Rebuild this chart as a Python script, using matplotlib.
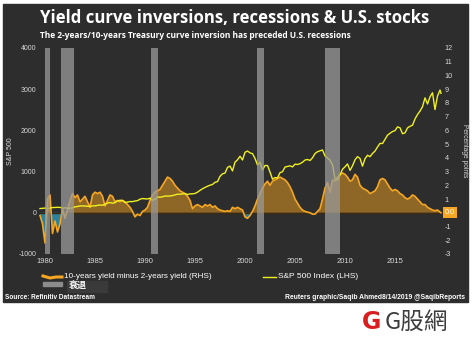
import numpy as np
import matplotlib
matplotlib.use("Agg")
import matplotlib.pyplot as plt
from matplotlib.patches import Rectangle
from matplotlib.lines import Line2D

plt.rcParams['font.family'] = ['Liberation Sans', 'DejaVu Sans']

# quarterly dates
dates = [1979.5 + 0.25 * i for i in range(161)] + [2019.6]

# S&P 500 index (LHS)
sp500 = [103, 108, 114, 102, 115, 127, 130, 133, 131, 117,
         120, 112, 110, 121, 145, 153, 168, 166, 165, 159,
         153, 167, 168, 180, 192, 182, 208, 235, 250, 232,
         246, 289, 304, 300, 248, 260, 273, 271, 286, 295,
         330, 346, 340, 335, 355, 305, 330, 380, 380, 387,
         408, 404, 408, 418, 435, 451, 450, 459, 466, 445,
         458, 460, 470, 500, 545, 584, 616, 645, 670, 687,
         740, 757, 885, 947, 963, 1102, 1133, 1017, 1229, 1286,
         1373, 1282, 1469, 1499, 1454, 1436, 1320, 1160, 1224, 1040,
         1148, 1147, 990, 815, 855, 848, 975, 996, 1111, 1126,
         1140, 1114, 1181, 1172, 1191, 1228, 1280, 1294, 1270, 1335,
         1438, 1482, 1503, 1526, 1378, 1330, 1280, 1166, 825, 797,
         919, 1057, 1115, 1186, 1030, 1141, 1286, 1363, 1320, 1131,
         1312, 1397, 1362, 1440, 1498, 1597, 1685, 1681, 1782, 1884,
         1930, 1972, 1995, 2086, 2063, 1920, 1940, 2060, 2099, 2126,
         2279, 2384, 2470, 2575, 2790, 2640, 2816, 2914, 2506, 2834,
         2980, 2900]

# 10y minus 2y yield, percentage points (RHS)
spread = [-0.2, -0.8, -2.2, 1.0, 1.3, -1.5, -0.6, -1.4, -0.8, 0.3,
          -0.4, 0.2, 0.9, 1.4, 1.1, 1.3, 0.8, 1.0, 1.2, 0.8,
          0.4, 1.3, 1.5, 1.4, 1.5, 1.2, 0.5, 0.9, 1.3, 1.2,
          0.8, 0.9, 0.8, 0.9, 0.8, 0.6, 0.4, 0.1, -0.3, -0.1,
          -0.2, 0.1, 0.2, 0.4, 0.9, 1.3, 1.5, 1.6, 1.7, 2.0,
          2.3, 2.6, 2.5, 2.3, 2.0, 1.8, 1.6, 1.5, 1.4, 1.2,
          0.9, 0.3, 0.5, 0.6, 0.5, 0.4, 0.6, 0.5, 0.6, 0.4,
          0.5, 0.3, 0.2, 0.15, 0.1, 0.15, 0.1, 0.4, 0.3, 0.4,
          0.3, 0.2, -0.3, -0.4, -0.2, 0.1, 0.5, 1.0, 1.4, 1.8,
          2.1, 2.3, 2.0, 2.3, 2.4, 2.5, 2.6, 2.5, 2.4, 2.2,
          1.9, 1.5, 1.0, 0.7, 0.4, 0.2, 0.1, 0.05, 0.0, -0.1,
          -0.1, 0.1, 0.3, 1.0, 1.8, 2.2, 1.5, 2.4, 2.3, 2.6,
          2.8, 2.9, 2.8, 2.6, 2.3, 2.4, 2.8, 2.6, 2.0, 1.8,
          1.7, 1.6, 1.4, 1.5, 1.6, 1.9, 2.4, 2.5, 2.4, 2.1,
          1.8, 1.6, 1.7, 1.6, 1.4, 1.3, 1.1, 1.0, 1.1, 1.3,
          1.2, 1.0, 0.8, 0.6, 0.6, 0.4, 0.3, 0.2, 0.15, 0.2,
          0.05, 0.0]

# US recessions (start, end)
recessions = [(1980.0, 1980.55), (1981.55, 1982.9), (1990.55, 1991.25),
              (2001.2, 2001.9), (2007.95, 2009.5)]

xticks = [1980, 1985, 1990, 1995, 2000, 2005, 2010, 2015]
left_ticks = [-1000, 0, 1000, 2000, 3000, 4000]
right_ticks = [-3, -2, -1, 0, 1, 2, 3, 4, 5, 6, 7, 8, 9, 10, 11, 12]

W, H = 474, 339
BG = '#2d2d2d'
ORANGE = '#f5a623'
YELLOW = '#f0f020'
GREY = '#9a9a9a'
TXT = '#d8d8d8'

fig = plt.figure(figsize=(W / 100, H / 100), dpi=100, facecolor='white')


def fx(px):
    return px / W


def fy(py):
    return 1 - py / H


# dark panel
fig.patches.append(Rectangle((fx(3), fy(302)), fx(465), 298 / H,
                             transform=fig.transFigure, color=BG, zorder=0))

ax = fig.add_axes([fx(39), fy(254), fx(404), 206 / H])
ax.set_facecolor(BG)
ax2 = ax.twinx()
ax.set_zorder(1)
ax2.set_zorder(2)
ax2.patch.set_visible(False)

d = np.array(dates)
s = np.array(spread)
ax2.fill_between(d, s, 0, where=s >= 0, interpolate=True,
                 color='#f0a020', alpha=0.5, lw=0)
ax2.fill_between(d, s, 0, where=s <= 0, interpolate=True,
                 color='#2aa0c8', alpha=0.75, lw=0)
ax2.axhline(0, color='#3b2a12', lw=1.0)
ax2.plot(d, s, color=ORANGE, lw=1.2)
# S&P drawn on the right axis in left-axis units (4000 <-> 12)
ax2.plot(d, np.array(sp500) * 3 / 1000.0, color=YELLOW, lw=1.0)

for a, b in recessions:
    ax2.axvspan(a, b, color=GREY, alpha=0.75, lw=0, zorder=5)

ax.set_xlim(1979.4, 2019.8)
ax.set_ylim(-1000, 4000)
ax2.set_ylim(-3, 12)
ax.set_xticks(xticks)
ax.set_xticklabels([str(t) for t in xticks])
ax.set_yticks(left_ticks)
ax.set_yticklabels([str(t) for t in left_ticks])
ax2.set_yticks(right_ticks)
ax2.set_yticklabels(['' if t == 0 else str(t) for t in right_ticks])

for a in (ax, ax2):
    for sp in a.spines.values():
        sp.set_visible(False)
ax.tick_params(axis='x', length=0, pad=3, labelsize=5.5, colors=TXT)
ax.tick_params(axis='y', length=0, pad=2, labelsize=5, colors=TXT)
ax2.tick_params(axis='y', length=0, pad=1, labelsize=5.2, colors=TXT)

ax2.text(1.0 + 2 / 404, 0, '0.0', transform=ax2.get_yaxis_transform(),
         ha='left', va='center', fontsize=5.3, color='white',
         bbox=dict(boxstyle='square,pad=0.25', fc=ORANGE, ec='none'))

fig.text(fx(11), fy(151), 'S&P 500', rotation=90, ha='center', va='center',
         fontsize=5, color=TXT)
fig.text(fx(464.5), fy(151), 'Percentage points', rotation=-90, ha='center',
         va='center', fontsize=4.8, color=TXT)

# titles
fig.text(fx(40), fy(18), 'Yield curve inversions, recessions & U.S. stocks',
         ha='left', va='center', fontsize=12.1, fontweight='bold',
         color='white', family='Open Sans')
fig.text(fx(40), fy(36), 'The 2-years/10-years Treasury curve inversion has preceded U.S. recessions',
         ha='left', va='center', fontsize=6.05, fontweight='bold',
         color='white', family='Open Sans')

# legend
fig.lines.append(Line2D([fx(43), fx(50), fx(56), fx(62)],
                        [fy(276), fy(278), fy(277), fy(277)],
                        transform=fig.transFigure, color=ORANGE, lw=2.2))
fig.text(fx(64), fy(277), '10-years yield minus 2-years yield (RHS)',
         ha='left', va='center', fontsize=5.9, color='white')
fig.patches.append(Rectangle((fx(67), fy(292)), fx(40), 11 / H,
                             transform=fig.transFigure, color='#3a3a3a'))
fig.patches.append(Rectangle((fx(43), fy(286)), fx(19), 4 / H,
                             transform=fig.transFigure, color='#8c8c8c'))
fig.text(fx(69), fy(286.5), '衰退', ha='left', va='center', fontsize=6.5,
         fontweight='bold', color='white',
         family=['Noto Sans CJK SC', 'DejaVu Sans'])
fig.lines.append(Line2D([fx(263), fx(276)], [fy(277), fy(277)],
                        transform=fig.transFigure, color=YELLOW, lw=1.0))
fig.text(fx(278), fy(277), 'S&P 500 Index (LHS)', ha='left', va='center',
         fontsize=6.0, color='white')

# footer
fig.text(fx(5), fy(297.5), 'Source: Refinitiv Datastream', ha='left',
         va='center', fontsize=4.7, fontweight='bold', color='white')
fig.text(fx(465), fy(297.5), 'Reuters graphic/Saqib Ahmed8/14/2019 @SaqibReports',
         ha='right', va='center', fontsize=4.9, fontweight='bold',
         color='white')

# logo
fig.text(fx(371.5), fy(322), 'G', ha='center', va='center', fontsize=17,
         fontweight='heavy', color='#d81e1e', family='DejaVu Sans')
fig.text(fx(385), fy(322), 'G股網', ha='left', va='center', fontsize=17,
         color='#3c3c3c', family=['Noto Sans CJK TC', 'DejaVu Sans'])

fig.savefig('out.png', dpi=100, facecolor='white')
